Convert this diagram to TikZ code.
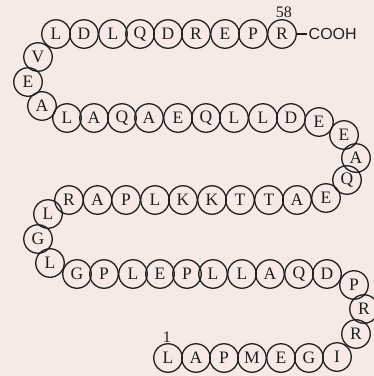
\documentclass[tikz,border=0pt]{standalone}
\usepackage{fontspec}
\setmainfont{Liberation Serif}
\setsansfont{Liberation Sans}
\definecolor{bgpink}{RGB}{247,234,230}
\definecolor{ink}{RGB}{30,30,30}
\begin{document}
\begin{tikzpicture}[x=1pt,y=1pt,
  res/.style={circle,draw=ink,line width=1.3pt,minimum size=28.5pt,inner sep=0pt,
    font=\fontsize{17.5}{17.5}\selectfont,text=ink},
  lbl/.style={font=\fontsize{16}{16}\selectfont,text=ink,inner sep=0pt},
  bond/.style={draw=ink,line width=1.3pt}]
\fill[bgpink] (0,0) rectangle (374,-376);
\useasboundingbox (0,0) rectangle (374,-376);
\foreach \n/\x/\y/\t in {
  1/168/358/L, 2/196/358/A, 3/224/358/P, 4/252/358/M, 5/281/358/E, 6/309/358/G, 7/337/357/I,
  8/356/334/R, 9/364/309/R, 10/354/285/P,
  11/327/274/D, 12/299/274/Q, 13/270/274/A, 14/242/274/L, 15/213/274/L, 16/187/274/P,
  17/160/274/E, 18/133/274/L, 19/104/274/P, 20/77/274/G,
  21/50/263/L, 22/38/239/G, 23/48/214/L,
  24/69/200/R, 25/97.5/200/A, 26/126/200/P, 27/155/200/L, 28/183/200/K, 29/212/200/K,
  30/240/200/T, 31/269/200/T, 32/297/200/A, 33/326/198/E,
  34/347/180/Q, 35/356/158/A, 36/344/135/E,
  37/319/122/E, 38/291/118/D, 39/263/118/L, 40/234/118/L, 41/206/118/Q, 42/178/118/E,
  43/149/118/A, 44/122/118/Q, 45/94/118/A, 46/67/118/L,
  47/42/106/A, 48/28/82/E, 49/38/57/V,
  50/56/34/L, 51/84/34/D, 52/113/34/L, 53/140/34/Q, 54/168/34/D, 55/196/34/R,
  56/225/34/E, 57/253/34/P, 58/282/34/R}
  {\node[res] (r\n) at (\x,-\y) {\t};}
\node[lbl,anchor=south] (n58) at (284,-18) {58};
\node[lbl,anchor=south] (n1) at (167,-343) {1};
\node[font=\sffamily\fontsize{16}{16}\selectfont,text=ink,inner sep=1.5pt,anchor=west] (cooh) at (307,-34) {COOH};
\draw[bond] (r58) -- (cooh);
\end{tikzpicture}
\end{document}
